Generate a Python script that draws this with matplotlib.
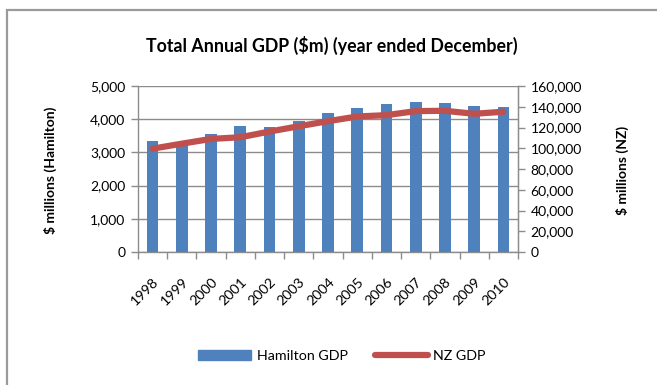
import matplotlib
matplotlib.use("Agg")
import matplotlib.pyplot as plt
from matplotlib.patches import Rectangle
from matplotlib.lines import Line2D
from matplotlib.ticker import FuncFormatter, MultipleLocator
import numpy as np

years = ["1998", "1999", "2000", "2001", "2002", "2003", "2004",
         "2005", "2006", "2007", "2008", "2009", "2010"]
hamilton_gdp = [3345, 3324, 3566, 3788, 3768, 3940, 4172,
                4333, 4454, 4505, 4475, 4394, 4364]
nz_gdp = [99600, 104400, 109000, 110600, 116100, 121200, 126100,
          130600, 131900, 135800, 136100, 133200, 135200]

plt.rcParams['font.family'] = ['Lato', 'DejaVu Sans']

BAR = "#4F81BD"
LINE = "#C0504D"
GRID = "#8C8C8C"

fig = plt.figure(figsize=(6.57, 3.85), dpi=100)
W, H = 657, 385

# chart frame
fig.patches.append(Rectangle((7 / W, -0.1), 1.2, 1 - 10 / H + 0.1,
                             transform=fig.transFigure, fill=False,
                             edgecolor="#9A9A9A", linewidth=1.6))

ax = fig.add_axes([138 / W, 1 - 252 / H, (518 - 138) / W, (252 - 86) / H])
x = np.arange(len(years))
ax.bar(x, hamilton_gdp, width=0.4, color=BAR, zorder=3)
ax.set_xlim(-0.5, len(years) - 0.5)
ax.set_ylim(0, 5000)
ax.yaxis.set_major_locator(MultipleLocator(1000))
ax.yaxis.set_major_formatter(FuncFormatter(lambda v, p: f"{int(v):,}"))
ax.grid(axis="y", color=GRID, linewidth=1.0, zorder=0)
ax.set_axisbelow(True)

ax.set_xticks(x)
ax.set_xticklabels(years, rotation=45, ha="right", rotation_mode="anchor")
ax.set_xticks(np.arange(-0.5, len(years)), minor=True)
ax.tick_params(axis="x", which="major", length=0, pad=17, labelsize=10.3)
ax.tick_params(axis="x", which="minor", length=5, color=GRID, width=1)
ax.tick_params(axis="y", length=5, color=GRID, width=1, labelsize=10, pad=4)

ax.spines["top"].set_visible(False)
for side in ["left", "bottom", "right"]:
    ax.spines[side].set_color(GRID)
    ax.spines[side].set_linewidth(1.0)

ax2 = ax.twinx()
ax2.plot(x, nz_gdp, color=LINE, linewidth=4.5, solid_capstyle="round", zorder=4)
ax2.set_ylim(0, 160000)
ax2.yaxis.set_major_locator(MultipleLocator(20000))
ax2.yaxis.set_major_formatter(FuncFormatter(lambda v, p: f"{int(v):,}"))
ax2.tick_params(axis="y", length=5, color=GRID, width=1, labelsize=10, pad=4)
for side in ["top", "left", "bottom"]:
    ax2.spines[side].set_visible(False)
ax2.spines["right"].set_color(GRID)

fig.text(332 / W, 1 - 45 / H, "Total Annual GDP ($m) (year ended December)",
         ha="center", va="center", fontsize=12.8, fontweight="bold")
fig.text(50 / W, 1 - 170 / H, "$ millions (Hamilton)", rotation=90,
         ha="center", va="center", fontsize=10, fontweight="bold")
fig.text(622 / W, 1 - 170 / H, "$ millions (NZ)", rotation=90,
         ha="center", va="center", fontsize=10, fontweight="bold")

handles = [Rectangle((0, 0), 1, 1, color=BAR),
           Line2D([0], [0], color=LINE, linewidth=4.5, solid_capstyle="round")]
fig.legend(handles, ["Hamilton GDP", "NZ GDP"], loc="center",
           bbox_to_anchor=(342 / W, 1 - 356 / H), ncol=2, frameon=False,
           fontsize=10.3, handlelength=3.7, handleheight=0.65,
           columnspacing=1.9, handletextpad=0.4)

fig.savefig("out.png", dpi=100)
